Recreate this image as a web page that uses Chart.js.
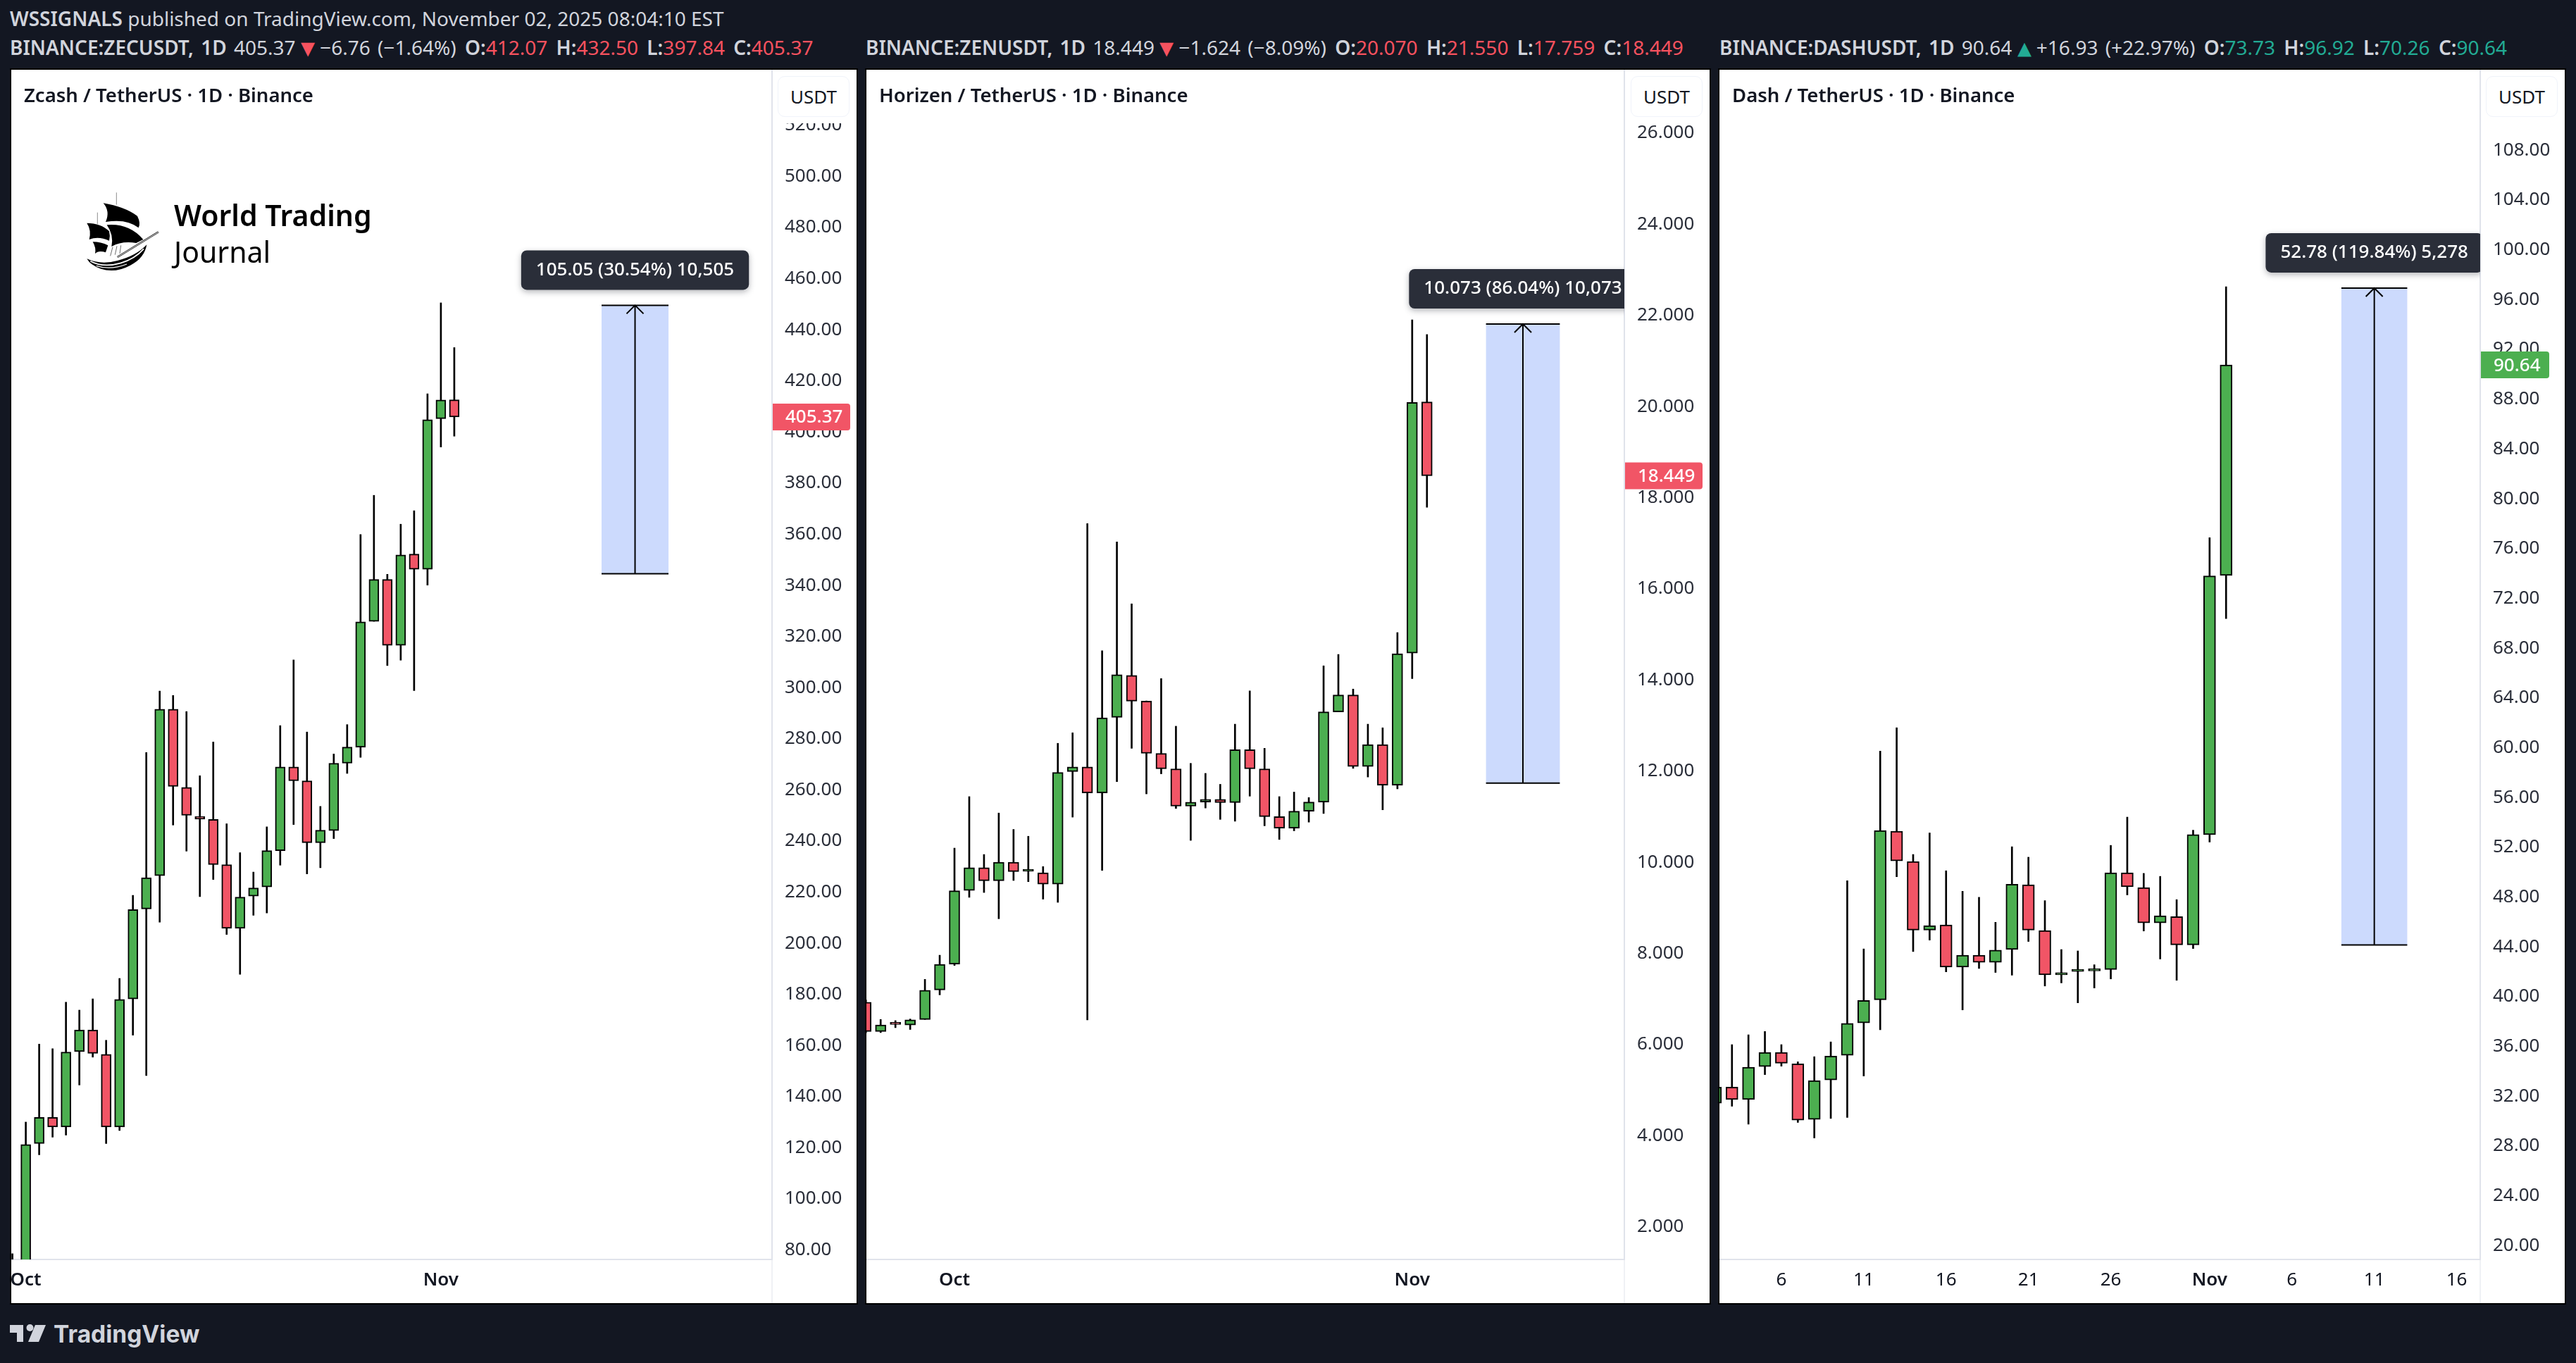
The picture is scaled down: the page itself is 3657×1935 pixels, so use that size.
<!DOCTYPE html>
<html>
<head>
<meta charset="utf-8">
<title>ZEC ZEN DASH</title>
<script src="https://cdn.jsdelivr.net/npm/chart.js@4"></script>
<style>
    html, body { margin: 0; padding: 0; background: #131722; width: 3657px; height: 1935px; overflow: hidden; }
    body { position: relative; font-family: "Noto Sans", sans-serif; }
    .line { position: absolute; white-space: nowrap; color: #d1d4dc; font-size: 28px; line-height: 36px; }
    .line b { font-weight: 600; }
    .quote { word-spacing: 3px; }
    .quote b:not(:first-child) { margin-left: 2px; }
    .arrow { font-size: 40px; line-height: 0; vertical-align: -3px; margin: 0 -3px; }
    .red { color: #f7525f; }
    .teal { color: #22ab94; }
    .panel { position: absolute; top: 99px; height: 1751px; background: #fff; outline: 2px solid #000; }
    .panel canvas { position: absolute; left: 0; top: 0; }
    .title { position: absolute; left: 18px; top: 18px; font-size: 27.5px; line-height: 36px; font-weight: 600; color: #131722; white-space: nowrap; }
    .unitCover { position: absolute; top: 0; height: 76px; background: #fff; }
    .unit { position: absolute; top: 9px; height: 58px; width: 102px; box-sizing: border-box; border: 1px solid #f0f3fa; border-radius: 10px; text-align: center; line-height: 56px; font-size: 26px; color: #131722; background: #fff; }
    .brand { position: absolute; left: 231px; color: #000; font-size: 41px; line-height: 52px; white-space: nowrap; }
    .tvText { position: absolute; left: 76px; top: 1871px; font-family: Inter, sans-serif; font-weight: 700; font-size: 33.5px; line-height: 46px; color: #d1d4dc; }
</style>
</head>
<body>
<div class="line" style="left:14px;top:8px"><b>WSSIGNALS</b> published on TradingView.com, November 02, 2025 08:04:10 EST</div>
<div class="line quote" style="left:14px;top:49px"><b>BINANCE:ZECUSDT, 1D</b> 405.37 <span class="red arrow">▾</span> −6.76 (−1.64%) <b>O:</b><span class="red">412.07</span> <b>H:</b><span class="red">432.50</span> <b>L:</b><span class="red">397.84</span> <b>C:</b><span class="red">405.37</span></div>
<div class="line quote" style="left:1229px;top:49px"><b>BINANCE:ZENUSDT, 1D</b> 18.449 <span class="red arrow">▾</span> −1.624 (−8.09%) <b>O:</b><span class="red">20.070</span> <b>H:</b><span class="red">21.550</span> <b>L:</b><span class="red">17.759</span> <b>C:</b><span class="red">18.449</span></div>
<div class="line quote" style="left:2441px;top:49px"><b>BINANCE:DASHUSDT, 1D</b> 90.64 <span class="teal arrow">▴</span> +16.93 (+22.97%) <b>O:</b><span class="teal">73.73</span> <b>H:</b><span class="teal">96.92</span> <b>L:</b><span class="teal">70.26</span> <b>C:</b><span class="teal">90.64</span></div>

<div class="panel" style="left:16px;width:1200px">
    <canvas id="zecChart" width="1200" height="1751"></canvas>
    <div class="title">Zcash / TetherUS · 1D · Binance</div>
    <div class="unitCover" style="left:1081px;width:119px"></div>
    <div class="unit" style="left:1088px">USDT</div>
    <svg style="position:absolute;left:84px;top:161px" width="160" height="160" viewBox="0 0 480 480">
        <path d="M196 40V92M115 125V175" stroke="#555" stroke-width="2" fill="none"/>
        <path d="M140 85Q230 100 285 140Q300 170 290 190Q240 150 150 165Q170 120 140 85Z"/>
        <path d="M155 178Q250 170 310 240L280 255Q220 245 175 270Q185 220 155 178Z"/>
        <path d="M70 170Q130 170 165 205Q170 225 165 245Q120 225 80 240Q90 200 70 170Z"/>
        <path d="M95 250Q130 250 160 265L150 295Q120 285 105 300Q110 275 95 250Z"/>
        <path d="M70 322Q130 350 200 330Q280 310 325 262Q315 320 255 350Q190 385 130 365Q85 350 70 322Z"/>
        <path d="M85 332Q140 362 215 340Q275 322 312 280" stroke="#fff" stroke-width="5" fill="none"/>
        <path d="M110 352Q170 372 240 345" stroke="#fff" stroke-width="4" fill="none"/>
        <path d="M200 315L375 208" stroke="#000" stroke-width="7" fill="none"/>
        <path d="M200 315L375 208" stroke="#fff" stroke-width="3" fill="none"/>
        <path d="M170 310L180 272M190 305L198 268M210 300L215 265" stroke="#222" stroke-width="2" fill="none"/>
    </svg>
    <div class="brand" style="top:180px;font-weight:600">World Trading</div>
    <div class="brand" style="top:232px">Journal</div>
</div>
<div class="panel" style="left:1230px;width:1197px">
    <canvas id="zenChart" width="1197" height="1751"></canvas>
    <div class="title">Horizen / TetherUS · 1D · Binance</div>
    <div class="unitCover" style="left:1078px;width:119px;height:67px"></div>
    <div class="unit" style="left:1085px">USDT</div>
</div>
<div class="panel" style="left:2441px;width:1200px">
    <canvas id="dashChart" width="1200" height="1751"></canvas>
    <div class="title">Dash / TetherUS · 1D · Binance</div>
    <div class="unitCover" style="left:1081px;width:119px;height:67px"></div>
    <div class="unit" style="left:1088px">USDT</div>
</div>

<svg style="position:absolute;left:0;top:1850px" width="80" height="85">
    <path d="M14 31H33V55H24V42H14Z" fill="#d1d4dc"/>
    <circle cx="42.5" cy="35" r="5" fill="#d1d4dc"/>
    <path d="M50 31H65L55 55H40Z" fill="#d1d4dc"/>
</svg>
<div class="tvText">TradingView</div>

<script>
// Zcash candles, first entry is Sep 30
const zecFirstDay = -1;
const zecOpen = [60, 72, 121.1, 131.3, 127.6, 157.1, 165.5, 156.0, 127.6, 177.7, 212.9, 225.9, 291.0, 260.4, 249.1, 247.9, 230.2, 205.3, 217.9, 221.5, 235.7, 268.4, 263.0, 238.8, 243.5, 269.9, 276.2, 325.4, 341.8, 316.0, 351.7, 345.8, 404.7, 412.07];
const zecHigh = [78, 129.5, 160.0, 158.2, 176.4, 173.3, 177.7, 161.5, 185.7, 218.2, 274.1, 298.1, 296.4, 290.1, 265.0, 278.2, 246.2, 234.9, 227.3, 245.0, 284.6, 310.3, 282.1, 253.0, 273.5, 285.0, 359.4, 374.7, 343.8, 363.4, 368.7, 414.4, 450.0, 432.50];
const zecLow = [55, 65, 116.7, 123.6, 124.4, 144.0, 154.9, 121.1, 126.2, 163.5, 147.7, 207.7, 245.7, 235.5, 217.7, 224.4, 202.9, 187.3, 210.4, 211.3, 230.0, 245.9, 226.6, 229.0, 240.4, 265.9, 272.2, 325.4, 308.1, 310.2, 298.3, 339.6, 393.6, 397.84];
const zecClose = [70, 120.7, 131.3, 127.6, 156.9, 165.5, 156.4, 127.6, 177.5, 212.6, 225.1, 291.0, 260.8, 249.5, 248.0, 230.2, 205.3, 217.5, 221.1, 235.7, 268.4, 263.0, 238.8, 243.7, 269.9, 276.2, 325.2, 341.8, 316.0, 351.4, 345.8, 404.3, 412.0, 405.37];
const zecPriceTicks = [80, 100, 120, 140, 160, 180, 200, 220, 240, 260, 280, 300, 320, 340, 360, 380, 400, 420, 440, 460, 480, 500, 520];
const zecDayTicks = [0, 31];
const zecDayLabels = ['Oct', 'Nov'];
const zecMeasure = [344.0, 449.05];
const zecMeasureDays = [43, 48];

// Horizen candles, first entry is Sep 25
const zenFirstDay = -6;
const zenOpen = [6.90, 6.256, 6.415, 6.397, 6.52, 7.167, 7.735, 9.35, 9.85, 9.563, 9.972, 9.77, 9.74, 9.49, 11.96, 12.06, 11.49, 13.15, 14.07, 13.505, 12.36, 12.02, 11.20, 11.29, 11.35, 11.28, 12.44, 12.02, 10.97, 10.72, 11.09, 11.29, 13.27, 13.64, 12.07, 12.55, 11.66, 14.56, 20.070];
const zenHigh = [6.95, 6.52, 6.495, 6.53, 7.40, 7.93, 10.28, 11.41, 10.14, 11.05, 10.69, 10.54, 9.875, 12.58, 12.81, 17.40, 14.61, 17.00, 15.64, 13.51, 14.00, 12.955, 12.14, 11.92, 11.68, 13.00, 13.73, 12.47, 11.41, 11.51, 11.39, 14.28, 14.53, 13.77, 13.00, 12.92, 15.01, 21.87, 21.550];
const zenLow = [6.23, 6.232, 6.34, 6.30, 6.52, 7.06, 7.705, 9.20, 9.306, 8.73, 9.57, 9.544, 9.16, 9.09, 10.96, 6.51, 9.79, 11.74, 12.47, 11.47, 11.91, 11.15, 10.45, 11.16, 10.91, 10.87, 11.42, 10.77, 10.47, 10.66, 10.85, 11.04, 13.27, 12.03, 11.84, 11.12, 11.58, 14.00, 17.759];
const zenClose = [6.256, 6.40, 6.41, 6.513, 7.16, 7.73, 9.343, 9.85, 9.563, 9.972, 9.765, 9.77, 9.49, 11.94, 12.06, 11.49, 13.14, 14.086, 13.505, 12.36, 12.02, 11.20, 11.286, 11.35, 11.28, 12.44, 12.02, 10.97, 10.72, 11.09, 11.29, 13.27, 13.64, 12.07, 12.55, 11.66, 14.544, 20.06, 18.449];
const zenPriceTicks = [2, 4, 6, 8, 10, 12, 14, 16, 18, 20, 22, 24, 26];
const zenDayTicks = [0, 31];
const zenDayLabels = ['Oct', 'Nov'];
const zenMeasure = [11.707, 21.78];
const zenMeasureDays = [36, 41];

// Dash candles, first entry is Oct 2
const dashFirstDay = 1;
const dashOpen = [31.32, 32.62, 31.62, 34.27, 35.41, 34.49, 30.02, 33.19, 35.17, 37.77, 39.63, 53.17, 50.74, 45.24, 45.65, 42.26, 43.21, 42.64, 43.67, 48.87, 45.19, 41.64, 41.91, 41.95, 42.07, 49.84, 48.65, 45.81, 46.32, 44.05, 52.90, 73.73];
const dashHigh = [33.0, 36.03, 36.82, 37.09, 36.03, 34.65, 35.06, 36.25, 49.20, 43.72, 59.62, 61.49, 51.31, 53.04, 50.00, 48.35, 47.87, 45.86, 51.93, 51.09, 47.60, 43.67, 43.56, 42.45, 52.04, 54.31, 49.79, 49.55, 47.68, 53.26, 76.76, 96.92];
const dashLow = [31.0, 31.08, 29.64, 33.62, 34.30, 29.78, 28.53, 30.10, 30.18, 33.51, 37.22, 49.52, 43.51, 44.43, 41.88, 38.82, 42.15, 41.83, 41.61, 44.32, 40.74, 40.99, 39.39, 40.58, 41.31, 48.06, 45.16, 42.91, 41.20, 43.75, 52.31, 70.26];
const dashClose = [32.62, 31.62, 34.22, 35.41, 34.54, 29.97, 33.14, 35.11, 37.74, 39.58, 53.23, 50.79, 45.24, 45.59, 42.26, 43.21, 42.64, 43.62, 48.92, 45.24, 41.64, 41.80, 41.91, 41.99, 49.84, 48.71, 45.81, 46.38, 44.05, 52.90, 73.69, 90.64];
const dashPriceTicks = [20, 24, 28, 32, 36, 40, 44, 48, 52, 56, 60, 64, 68, 72, 76, 80, 84, 88, 92, 96, 100, 104, 108];
const dashDayTicks = [5, 10, 15, 20, 25, 31, 36, 41, 46];
const dashDayLabels = ['6', '11', '16', '21', '26', 'Nov', '6', '11', '16'];
const dashMeasure = [44.04, 96.82];
const dashMeasureDays = [39, 43];

const UP_COLOR = '#4caf50';
const DOWN_COLOR = '#f15566';
const AXIS_LINE = '#e0e3eb';
const TEXT_COLOR = '#131722';
const AXIS_FONT = '"Noto Sans", sans-serif';

// Build {x, y:[a,b]} points for the floating bars
function toPoints(firstDay, from, to) {
    return from.map((v, i) => ({ x: firstDay + i, y: [v, to[i]] }));
}

// Keep the plot area at the full size, labels may overhang
function clearScalePadding(scale) {
    scale.paddingTop = 0;
    scale.paddingBottom = 0;
    scale.paddingLeft = 0;
    scale.paddingRight = 0;
}

// Draws the measure box, its label, the last price tag
const overlayPlugin = {
    id: 'overlay',
    afterDatasetsDraw(chart, args, opts) {
        const { ctx, chartArea, scales } = chart;
        const left = scales.x.getPixelForValue(opts.days[0]);
        const right = scales.x.getPixelForValue(opts.days[1]);
        const top = scales.y.getPixelForValue(opts.range[1]);
        const bottom = scales.y.getPixelForValue(opts.range[0]);
        const mid = (left + right) / 2;

        ctx.save();
        ctx.beginPath();
        ctx.rect(chartArea.left, chartArea.top, chartArea.width, chartArea.height);
        ctx.clip();

        ctx.fillStyle = '#ccdafd';
        ctx.fillRect(left, top, right - left, bottom - top);
        ctx.strokeStyle = '#000';
        ctx.lineWidth = 2;
        ctx.beginPath();
        ctx.moveTo(left, top); ctx.lineTo(right, top);
        ctx.moveTo(left, bottom); ctx.lineTo(right, bottom);
        ctx.moveTo(mid, bottom); ctx.lineTo(mid, top);
        ctx.moveTo(mid - 12, top + 12); ctx.lineTo(mid, top); ctx.lineTo(mid + 12, top + 12);
        ctx.stroke();

        // label above the box
        ctx.font = '500 26px ' + AXIS_FONT;
        const boxWidth = ctx.measureText(opts.label).width + 42;
        ctx.shadowColor = 'rgba(42,46,57,0.35)';
        ctx.shadowBlur = 8;
        ctx.shadowOffsetY = 3;
        ctx.fillStyle = '#2a2e39';
        ctx.beginPath();
        ctx.roundRect(mid - boxWidth / 2, top - 78, boxWidth, 56, 8);
        ctx.fill();
        ctx.shadowColor = 'transparent';
        ctx.fillStyle = '#fff';
        ctx.textAlign = 'center';
        ctx.textBaseline = 'middle';
        ctx.fillText(opts.label, mid, top - 50);
        ctx.restore();
    },
    afterDraw(chart, args, opts) {
        const { ctx, chartArea, scales, height } = chart;
        const y = scales.y.getPixelForValue(opts.last);
        ctx.save();
        // axis divider carries on beside the time scale
        ctx.strokeStyle = AXIS_LINE;
        ctx.lineWidth = 1;
        ctx.beginPath();
        ctx.moveTo(chartArea.right, chartArea.bottom);
        ctx.lineTo(chartArea.right, height);
        ctx.stroke();

        ctx.fillStyle = opts.tagColor;
        ctx.beginPath();
        ctx.roundRect(chartArea.right + 1, y - 19, opts.tagWidth, 38, [0, 4, 4, 0]);
        ctx.fill();
        ctx.fillStyle = '#fff';
        ctx.font = '500 26px ' + AXIS_FONT;
        ctx.textAlign = 'left';
        ctx.textBaseline = 'middle';
        ctx.fillText(opts.tagText, chartArea.right + 19, y + 1);
        ctx.restore();
    }
};

function createCandleChart(canvasId, cfg) {
    const dayLabel = value => cfg.dayLabels[cfg.dayTicks.indexOf(value)] || '';
    return new Chart(document.getElementById(canvasId), {
        type: 'bar',
        data: {
            datasets: [
                {
                    // bodies come first so they sit on top of the wicks
                    data: toPoints(cfg.firstDay, cfg.open, cfg.close),
                    backgroundColor: cfg.close.map((c, i) => c >= cfg.open[i] ? UP_COLOR : DOWN_COLOR),
                    borderColor: '#000',
                    borderWidth: 2,
                    borderSkipped: false,
                    barThickness: cfg.bodyWidth,
                    minBarLength: 3,
                    grouped: false
                },
                {
                    data: toPoints(cfg.firstDay, cfg.low, cfg.high),
                    backgroundColor: '#000',
                    borderWidth: 0,
                    barThickness: 2,
                    grouped: false
                }
            ]
        },
        options: {
            responsive: false,
            animation: false,
            events: [],
            layout: { padding: 0 },
            plugins: {
                legend: { display: false },
                tooltip: { enabled: false },
                overlay: {
                    days: cfg.measureDays,
                    range: cfg.measure,
                    label: cfg.measureLabel,
                    last: cfg.close[cfg.close.length - 1],
                    tagColor: cfg.tagColor,
                    tagText: cfg.tagText,
                    tagWidth: cfg.tagWidth
                }
            },
            scales: {
                x: {
                    type: 'linear',
                    offset: false,
                    min: cfg.xMin,
                    max: cfg.xMax,
                    grid: { display: false, offset: false, drawTicks: false },
                    border: { display: true, color: AXIS_LINE, width: 2 },
                    afterFit(scale) { scale.height = 62; clearScalePadding(scale); },
                    afterBuildTicks(scale) { scale.ticks = cfg.dayTicks.map(v => ({ value: v })); },
                    ticks: {
                        autoSkip: false,
                        maxRotation: 0,
                        padding: 14,
                        color: TEXT_COLOR,
                        font: ctx => ({
                            family: AXIS_FONT,
                            size: 26,
                            weight: ctx.tick && /[a-z]/i.test(dayLabel(ctx.tick.value)) ? '600' : '400'
                        }),
                        callback: value => dayLabel(value)
                    }
                },
                y: {
                    position: 'right',
                    min: cfg.yMin,
                    max: cfg.yMax,
                    grid: { display: false, drawTicks: false },
                    border: { display: true, color: AXIS_LINE, width: 2 },
                    afterFit(scale) { scale.width = cfg.axisWidth; clearScalePadding(scale); },
                    afterBuildTicks(scale) { scale.ticks = cfg.priceTicks.map(v => ({ value: v })); },
                    ticks: {
                        autoSkip: false,
                        padding: 18,
                        labelOffset: 2,
                        color: '#2a2e39',
                        font: { family: AXIS_FONT, size: 26 },
                        callback: value => value.toFixed(cfg.decimals)
                    }
                }
            }
        },
        plugins: [overlayPlugin]
    });
}

document.addEventListener('DOMContentLoaded', function() {
    createCandleChart('zecChart', {
        firstDay: zecFirstDay, open: zecOpen, high: zecHigh, low: zecLow, close: zecClose,
        priceTicks: zecPriceTicks, dayTicks: zecDayTicks, dayLabels: zecDayLabels,
        measure: zecMeasure, measureDays: zecMeasureDays, measureLabel: '105.05 (30.54%) 10,505',
        tagColor: DOWN_COLOR, tagText: '405.37', tagWidth: 110,
        xMin: -1.084, xMax: 55.73, yMin: 75.75, yMax: 541.2,
        axisWidth: 120, bodyWidth: 14, decimals: 2
    });
    createCandleChart('zenChart', {
        firstDay: zenFirstDay, open: zenOpen, high: zenHigh, low: zenLow, close: zenClose,
        priceTicks: zenPriceTicks, dayTicks: zenDayTicks, dayLabels: zenDayLabels,
        measure: zenMeasure, measureDays: zenMeasureDays, measureLabel: '10.073 (86.04%) 10,073',
        tagColor: DOWN_COLOR, tagText: '18.449', tagWidth: 110,
        xMin: -5.964, xMax: 45.37, yMin: 1.254, yMax: 27.36,
        axisWidth: 121, bodyWidth: 15, decimals: 3
    });
    createCandleChart('dashChart', {
        firstDay: dashFirstDay, open: dashOpen, high: dashHigh, low: dashLow, close: dashClose,
        priceTicks: dashPriceTicks, dayTicks: dashDayTicks, dayLabels: dashDayLabels,
        measure: dashMeasure, measureDays: dashMeasureDays, measureLabel: '52.78 (119.84%) 5,278',
        tagColor: UP_COLOR, tagText: '90.64', tagWidth: 97,
        xMin: 1.24, xMax: 47.43, yMin: 18.77, yMax: 114.36,
        axisWidth: 120, bodyWidth: 17, decimals: 2
    });
});
</script>
</body>
</html>
